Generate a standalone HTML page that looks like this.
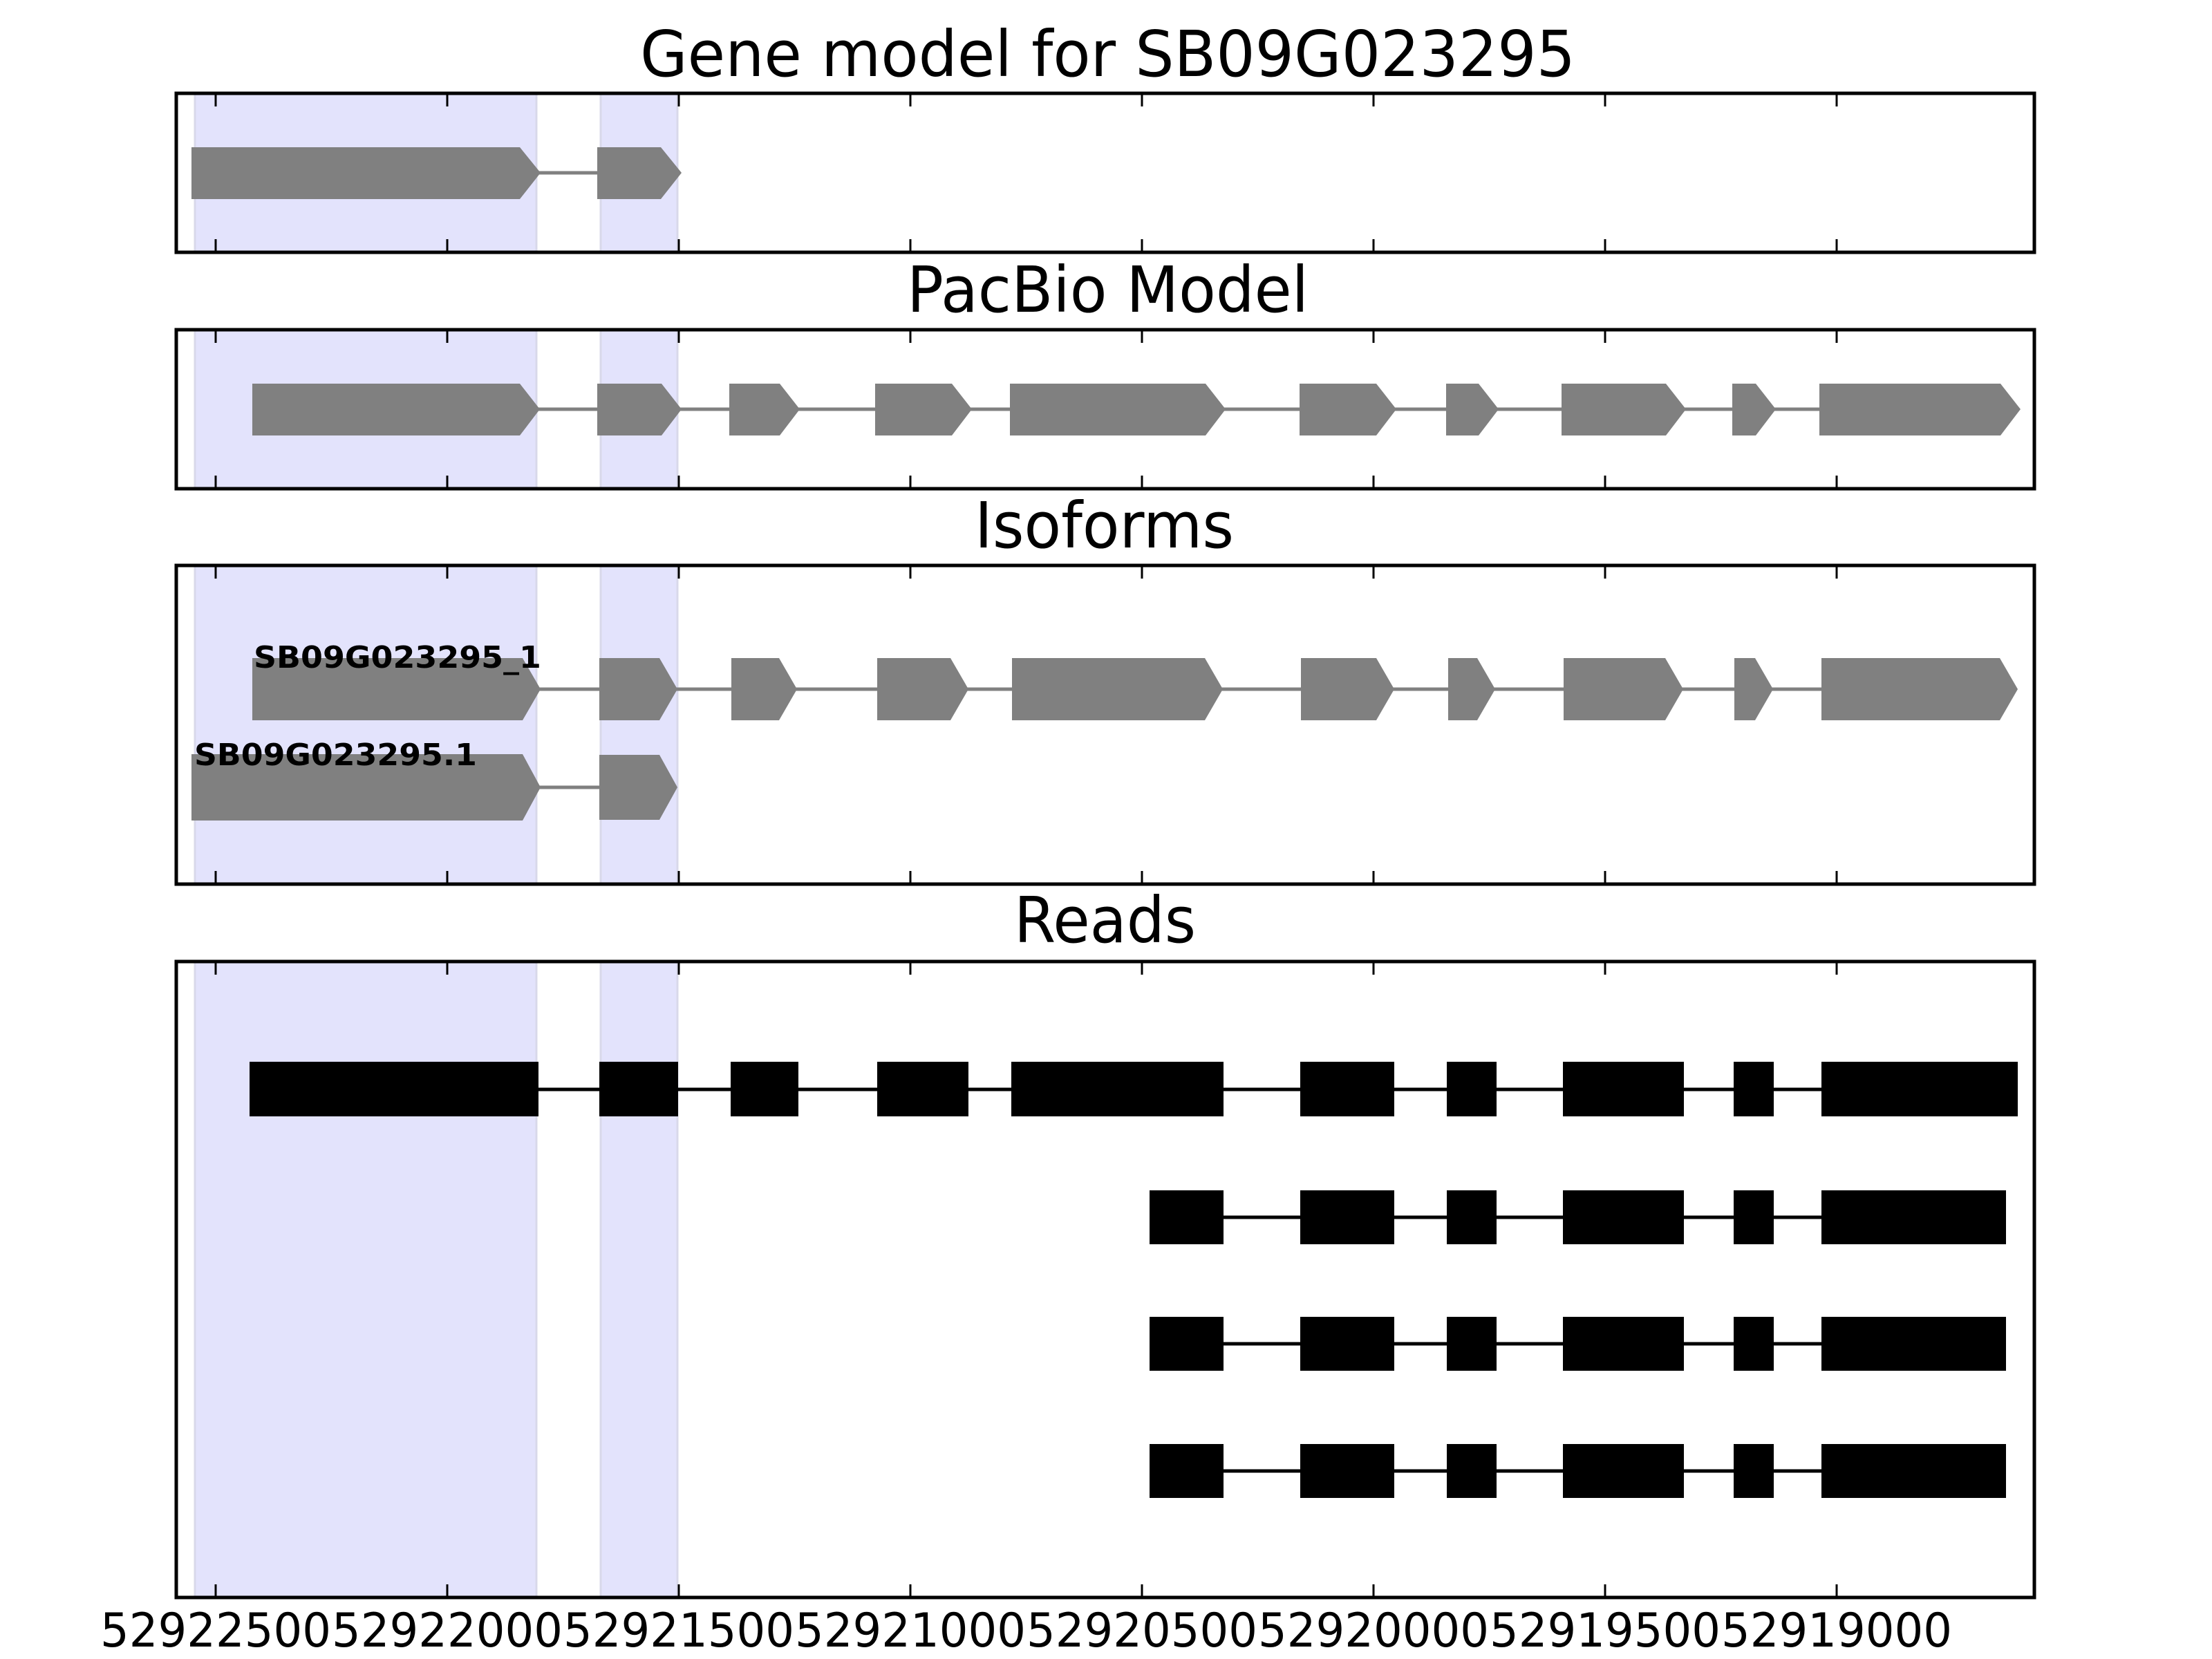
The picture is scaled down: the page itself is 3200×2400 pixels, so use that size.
<!DOCTYPE html>
<html><head><meta charset="utf-8"><style>html,body{margin:0;padding:0;background:#fff}svg{display:block}</style></head>
<body>
<svg width="3200" height="2400" viewBox="0 0 3200 2400" xmlns="http://www.w3.org/2000/svg" font-family="DejaVu Sans, Liberation Sans, sans-serif">
<rect width="3200" height="2400" fill="#fff"/>
<!-- Titles -->
<text x="926" y="110" font-size="92" textLength="1353" lengthAdjust="spacingAndGlyphs">Gene model for SB09G023295</text>
<text x="1312" y="451" font-size="92" textLength="581" lengthAdjust="spacingAndGlyphs">PacBio Model</text>
<text x="1410" y="792" font-size="92" textLength="375" lengthAdjust="spacingAndGlyphs">Isoforms</text>
<text x="1467" y="1363" font-size="92" textLength="263" lengthAdjust="spacingAndGlyphs">Reads</text>

<!-- shading -->
<g fill="#e3e3fc" stroke="#d8d8ea" stroke-width="3">
<rect x="282" y="135" width="494" height="230"/><rect x="869" y="135" width="111" height="230"/>
<rect x="282" y="477" width="494" height="230"/><rect x="869" y="477" width="111" height="230"/>
<rect x="282" y="818" width="494" height="461"/><rect x="869" y="818" width="111" height="461"/>
<rect x="282" y="1391" width="494" height="920"/><rect x="869" y="1391" width="111" height="920"/>
</g>

<!-- Panel 1 -->
<g fill="#808080">
<line x1="770" y1="250" x2="870" y2="250" stroke="#808080" stroke-width="5"/>
<polygon points="277,213 752,213 782,250 752,288 277,288"/>
<polygon points="864,213 956,213 986,250 956,288 864,288"/>
</g>

<!-- Panel 2 -->
<g fill="#808080">
<line x1="770" y1="592" x2="2640" y2="592" stroke="#808080" stroke-width="5"/>
<polygon points="365,555 752,555 781,592 752,630 365,630"/>
<polygon points="864,555 957,555 986,592 957,630 864,630"/>
<polygon points="1055,555 1128,555 1157,592 1128,630 1055,630"/>
<polygon points="1266,555 1377,555 1406,592 1377,630 1266,630"/>
<polygon points="1461,555 1744,555 1773,592 1744,630 1461,630"/>
<polygon points="1880,555 1991,555 2020,592 1991,630 1880,630"/>
<polygon points="2092,555 2139,555 2168,592 2139,630 2092,630"/>
<polygon points="2259,555 2410,555 2439,592 2410,630 2259,630"/>
<polygon points="2506,555 2540,555 2569,592 2540,630 2506,630"/>
<polygon points="2632,555 2894,555 2923,592 2894,630 2632,630"/>
</g>

<!-- Panel 3 -->
<g fill="#808080">
<line x1="770" y1="997" x2="2640" y2="997" stroke="#808080" stroke-width="5"/>
<polygon points="365,952 756,952 782,997 756,1042 365,1042"/>
<polygon points="867,952 954,952 980,997 954,1042 867,1042"/>
<polygon points="1058,952 1127,952 1153,997 1127,1042 1058,1042"/>
<polygon points="1269,952 1375,952 1401,997 1375,1042 1269,1042"/>
<polygon points="1464,952 1743,952 1769,997 1743,1042 1464,1042"/>
<polygon points="1882,952 1991,952 2017,997 1991,1042 1882,1042"/>
<polygon points="2095,952 2137,952 2163,997 2137,1042 2095,1042"/>
<polygon points="2262,952 2409,952 2435,997 2409,1042 2262,1042"/>
<polygon points="2509,952 2539,952 2565,997 2539,1042 2509,1042"/>
<polygon points="2635,952 2893,952 2919,997 2893,1042 2635,1042"/>
<line x1="770" y1="1139" x2="870" y2="1139" stroke="#808080" stroke-width="5"/>
<polygon points="277,1091 756,1091 782,1139 756,1187 277,1187"/>
<polygon points="867,1092 954,1092 980,1139 954,1186 867,1186"/>
</g>
<text x="367" y="966" font-size="44" font-weight="bold" textLength="416" lengthAdjust="spacingAndGlyphs">SB09G023295_1</text>
<text x="281" y="1107" font-size="44" font-weight="bold" textLength="409" lengthAdjust="spacingAndGlyphs">SB09G023295.1</text>

<!-- Reads -->
<g fill="#000">
<line x1="361" y1="1576" x2="2919" y2="1576" stroke="#000" stroke-width="5"/>
<rect x="361" y="1536" width="418" height="79"/>
<rect x="867" y="1536" width="114" height="79"/>
<rect x="1057" y="1536" width="98" height="79"/>
<rect x="1269" y="1536" width="132" height="79"/>
<rect x="1463" y="1536" width="307" height="79"/>
<rect x="1881" y="1536" width="136" height="79"/>
<rect x="2093" y="1536" width="72" height="79"/>
<rect x="2261" y="1536" width="175" height="79"/>
<rect x="2508" y="1536" width="58" height="79"/>
<rect x="2635" y="1536" width="284" height="79"/>
</g>
<g fill="#000" id="r2">
<line x1="1663" y1="1761" x2="2902" y2="1761" stroke="#000" stroke-width="5"/>
<rect x="1663" y="1722" width="107" height="78"/>
<rect x="1881" y="1722" width="136" height="78"/>
<rect x="2093" y="1722" width="72" height="78"/>
<rect x="2261" y="1722" width="175" height="78"/>
<rect x="2508" y="1722" width="58" height="78"/>
<rect x="2635" y="1722" width="267" height="78"/>
</g>
<use href="#r2" y="183"/>
<use href="#r2" y="367"/>

<!-- Axes frames -->
<g fill="none" stroke="#000" stroke-width="5">
<rect x="255" y="135" width="2688" height="230"/>
<rect x="255" y="477" width="2688" height="230"/>
<rect x="255" y="818" width="2688" height="461"/>
<rect x="255" y="1391" width="2688" height="920"/>
</g>
<!-- ticks -->
<g stroke="#000" stroke-width="3">
<path d="M312 135v19M647 135v19M982 135v19M1317 135v19M1652 135v19M1987 135v19M2322 135v19M2657 135v19
M312 365v-19M647 365v-19M982 365v-19M1317 365v-19M1652 365v-19M1987 365v-19M2322 365v-19M2657 365v-19
M312 477v19M647 477v19M982 477v19M1317 477v19M1652 477v19M1987 477v19M2322 477v19M2657 477v19
M312 707v-19M647 707v-19M982 707v-19M1317 707v-19M1652 707v-19M1987 707v-19M2322 707v-19M2657 707v-19
M312 818v19M647 818v19M982 818v19M1317 818v19M1652 818v19M1987 818v19M2322 818v19M2657 818v19
M312 1279v-19M647 1279v-19M982 1279v-19M1317 1279v-19M1652 1279v-19M1987 1279v-19M2322 1279v-19M2657 1279v-19
M312 1391v19M647 1391v19M982 1391v19M1317 1391v19M1652 1391v19M1987 1391v19M2322 1391v19M2657 1391v19
M312 2311v-19M647 2311v-19M982 2311v-19M1317 2311v-19M1652 2311v-19M1987 2311v-19M2322 2311v-19M2657 2311v-19"/>
</g>
<!-- tick labels -->
<g font-size="68">
<text x="145" y="2382" textLength="334" lengthAdjust="spacingAndGlyphs">52922500</text>
<text x="480" y="2382" textLength="334" lengthAdjust="spacingAndGlyphs">52922000</text>
<text x="815" y="2382" textLength="334" lengthAdjust="spacingAndGlyphs">52921500</text>
<text x="1150" y="2382" textLength="334" lengthAdjust="spacingAndGlyphs">52921000</text>
<text x="1485" y="2382" textLength="334" lengthAdjust="spacingAndGlyphs">52920500</text>
<text x="1820" y="2382" textLength="334" lengthAdjust="spacingAndGlyphs">52920000</text>
<text x="2155" y="2382" textLength="334" lengthAdjust="spacingAndGlyphs">52919500</text>
<text x="2490" y="2382" textLength="334" lengthAdjust="spacingAndGlyphs">52919000</text>
</g>
</svg>
</body></html>
